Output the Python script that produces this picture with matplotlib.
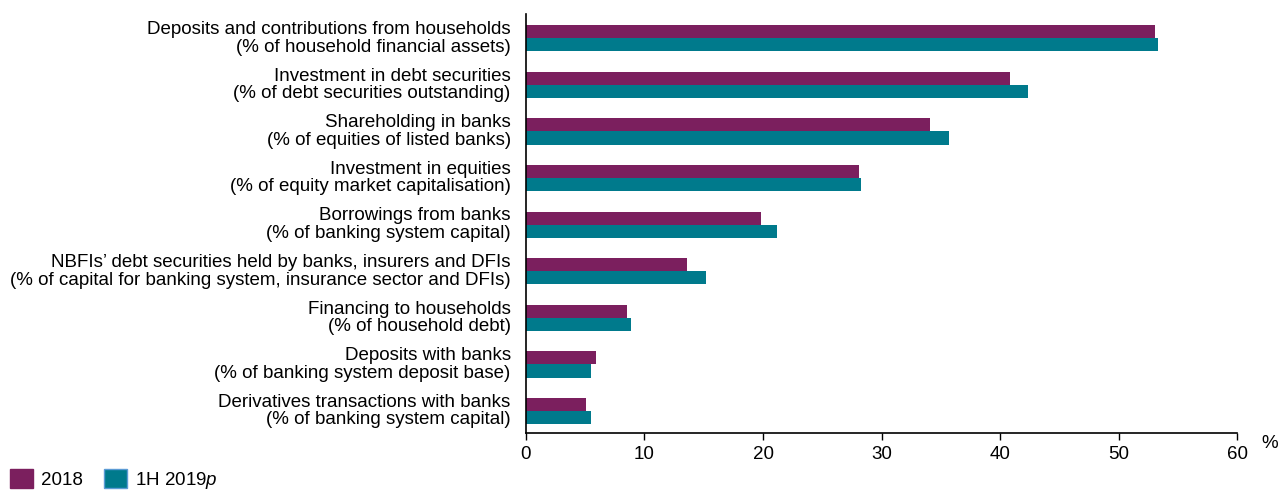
import matplotlib.pyplot as plt
import matplotlib.patches as mpatches
import numpy as np

plt.rcParams['font.family'] = ['Liberation Sans', 'DejaVu Sans']
plt.rcParams['mathtext.fontset'] = 'custom'
plt.rcParams['mathtext.it'] = 'Liberation Sans:italic'
plt.rcParams['mathtext.rm'] = 'Liberation Sans'

categories = [
    "Deposits and contributions from households\n(% of household financial assets)",
    "Investment in debt securities\n(% of debt securities outstanding)",
    "Shareholding in banks\n(% of equities of listed banks)",
    "Investment in equities\n(% of equity market capitalisation)",
    "Borrowings from banks\n(% of banking system capital)",
    "NBFIs\u2019 debt securities held by banks, insurers and DFIs\n(% of capital for banking system, insurance sector and DFIs)",
    "Financing to households\n(% of household debt)",
    "Deposits with banks\n(% of banking system deposit base)",
    "Derivatives transactions with banks\n(% of banking system capital)",
]
vals_2018 = [53.1, 40.8, 34.1, 28.1, 19.8, 13.6, 8.5, 5.9, 5.1]
vals_2019 = [53.3, 42.4, 35.7, 28.3, 21.2, 15.2, 8.9, 5.5, 5.5]
xticks = [0, 10, 20, 30, 40, 50, 60]

purple = '#7b1f5e'
teal = '#007a8c'

fig = plt.figure(figsize=(12.81, 4.91), dpi=100)
ax = fig.add_axes([0.4106, 0.1181, 0.5551, 0.8534])

y = np.arange(len(categories))
h = 0.28
ax.barh(y - h / 2, vals_2018, height=h, color=purple)
ax.barh(y + h / 2, vals_2019, height=h, color=teal)

ax.set_ylim(len(categories) - 0.53, -0.52)
ax.set_xlim(0, 60)
ax.set_yticks(y - 0.05)
ax.set_yticklabels(categories, fontsize=13.5, linespacing=1.05)
ax.tick_params(axis='y', length=0, pad=11)
ax.set_xticks(xticks)
ax.tick_params(axis='x', direction='out', length=5, width=1, labelsize=13.5, pad=4)

for s in ['top', 'right']:
    ax.spines[s].set_visible(False)
for s in ['left', 'bottom']:
    ax.spines[s].set_linewidth(1.2)

ax.text(1.046, -0.005, '%', transform=ax.transAxes, fontsize=13.5, ha='center', va='top')

handles = [
    mpatches.Patch(facecolor=purple, edgecolor=purple, label='2018'),
    mpatches.Patch(facecolor=teal, edgecolor='#5b9bd5', label=r'1H 2019$\it{p}$'),
]
fig.legend(handles=handles, loc='center left', bbox_to_anchor=(0.0078, 0.022), ncol=2,
           frameon=False, fontsize=13.5, handlelength=1.23, handleheight=1.17,
           handletextpad=0.45, columnspacing=1.1, borderpad=0, borderaxespad=0)

fig.savefig('out.png', dpi=100)
